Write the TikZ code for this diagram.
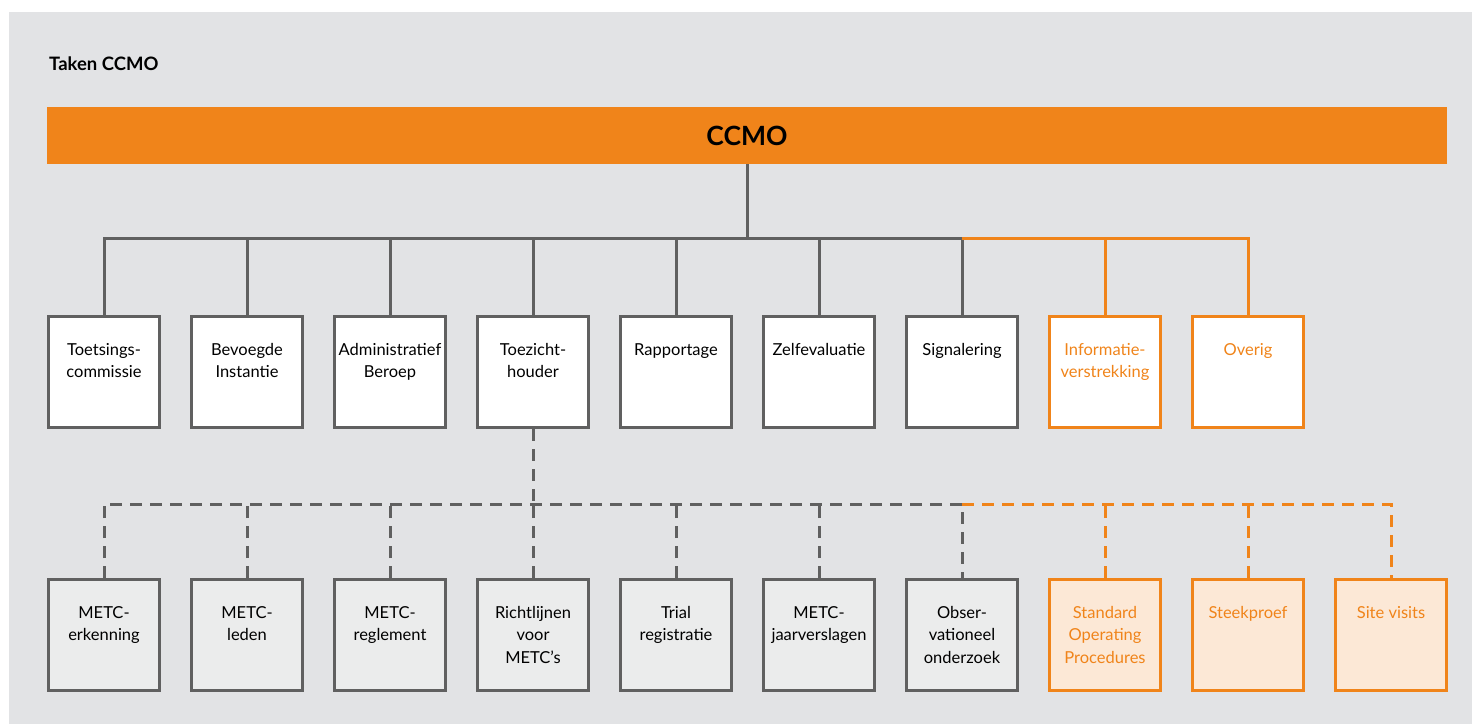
\documentclass[tikz,border=0pt]{standalone}
\usepackage{fontspec}
\setmainfont{Lato}
\definecolor{bggray}{HTML}{E2E3E5}
\definecolor{linegray}{HTML}{606060}
\definecolor{ccorange}{HTML}{F0841A}
\definecolor{lowgray}{HTML}{EBECEC}
\definecolor{loworange}{HTML}{FCE8D6}
\tikzset{
  box/.style={draw=linegray, line width=3pt, minimum width=111pt, minimum height=111pt, inner sep=0pt},
  topbox/.style={box, fill=white},
  topobox/.style={box, draw=ccorange, fill=white},
  lowbox/.style={box, fill=lowgray},
  lowobox/.style={box, draw=ccorange, fill=loworange},
  lbl/.style={anchor=north, align=center, font=\fontsize{16.5}{22.5}\selectfont, inner sep=0pt, text=black},
  olbl/.style={lbl, text=ccorange},
  conn/.style={draw=linegray, line width=3pt},
  oconn/.style={draw=ccorange, line width=3pt},
  dconn/.style={conn, dash pattern=on 12pt off 8pt},
  doconn/.style={oconn, dash pattern=on 12pt off 8pt},
}
\begin{document}
\begin{tikzpicture}[x=1pt,y=-1pt]
\useasboundingbox (0,0) rectangle (1472,724);
\fill[bggray] (9,12) rectangle (1472,724);
\node[anchor=base west, inner sep=0pt, font=\fontsize{18.5}{22}\selectfont\bfseries] (title) at (49,70) {Taken CCMO};
\node[fill=ccorange, minimum width=1400pt, minimum height=57pt, inner sep=0pt, font=\fontsize{26.5}{30}\selectfont\bfseries] (ccmo) at (747,135.5) {CCMO};
% top boxes
\foreach \i/\x in {1/104,2/247,3/390,4/533,5/676,6/819,7/962}{
  \node[topbox] (t\i) at (\x,372) {};
}
\node[topobox] (t8) at (1105,372) {};
\node[topobox] (t9) at (1248,372) {};
% bottom boxes
\foreach \i/\x in {1/104,2/247,3/390,4/533,5/676,6/819,7/962}{
  \node[lowbox] (b\i) at (\x,635) {};
}
\node[lowobox] (b8) at (1105,635) {};
\node[lowobox] (b9) at (1248,635) {};
\node[lowobox] (b10) at (1391,635) {};
% labels top
\node[lbl] (lt1) at (104,343) {Toetsings-\\commissie};
\node[lbl] (lt2) at (247,343) {Bevoegde\\Instantie};
\node[lbl] (lt3) at (390,343) {Administratief\\Beroep};
\node[lbl] (lt4) at (533,343) {Toezicht-\\houder};
\node[lbl] (lt5) at (676,343) {Rapportage};
\node[lbl] (lt6) at (819,343) {Zelfevaluatie};
\node[lbl] (lt7) at (962,343) {Signalering};
\node[olbl] (lt8) at (1105,343) {Informatie-\\verstrekking};
\node[olbl] (lt9) at (1248,343) {Overig};
% labels bottom
\node[lbl] (lb1) at (104,606) {METC-\\erkenning};
\node[lbl] (lb2) at (247,606) {METC-\\leden};
\node[lbl] (lb3) at (390,606) {METC-\\reglement};
\node[lbl] (lb4) at (533,606) {Richtlijnen\\voor\\METC’s};
\node[lbl] (lb5) at (676,606) {Trial\\registratie};
\node[lbl] (lb6) at (819,606) {METC-\\jaarverslagen};
\node[lbl] (lb7) at (962,606) {Obser-\\vationeel\\onderzoek};
\node[olbl] (lb8) at (1105,606) {Standard\\Operating\\Procedures};
\node[olbl] (lb9) at (1248,606) {Steekproef};
\node[olbl] (lb10) at (1391,606) {Site visits};
% solid connectors
\coordinate (j) at (747,238);
\draw[conn] (ccmo.south) -- (j);
\draw[conn] (t1.north) -- (t1.north |- j) -- (t7.north |- j) -- (t7.north);
\foreach \i in {2,3,4,5,6}{
  \draw[conn] (t\i.north) -- (t\i.north |- j);
}
\draw[oconn] (t7.north |- j) -- (t9.north |- j) -- (t9.north);
\draw[oconn] (t8.north) -- (t8.north |- j);
% dashed connectors
\coordinate (k) at (533,504);
\draw[dconn] (t4.south) -- (k);
\draw[dconn] (b1.north) -- (b1.north |- k) -- (b7.north |- k) -- (b7.north);
\foreach \i in {2,3,4,5,6}{
  \draw[dconn] (b\i.north) -- (b\i.north |- k);
}
\draw[doconn] (b7.north |- k) -- (b10.north |- k) -- (b10.north);
\draw[doconn] (b8.north) -- (b8.north |- k);
\draw[doconn] (b9.north) -- (b9.north |- k);
\end{tikzpicture}
\end{document}
